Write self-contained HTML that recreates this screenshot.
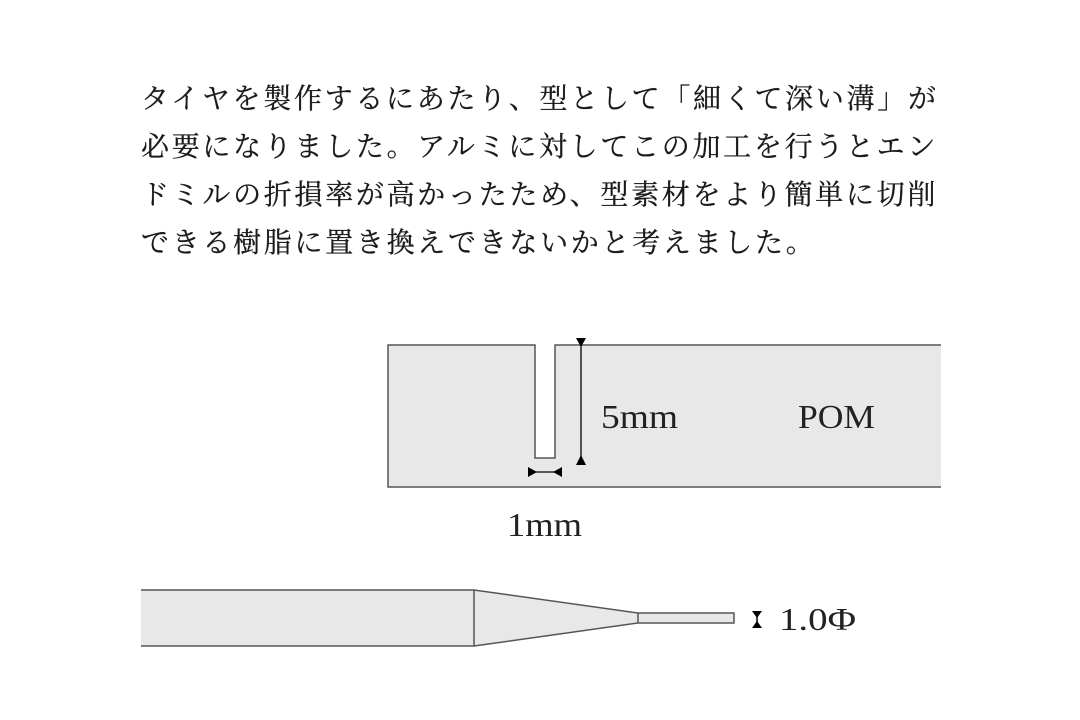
<!DOCTYPE html>
<html><head><meta charset="utf-8"><style>
body{margin:0;width:1080px;height:720px;background:#fff;overflow:hidden;position:relative}
.t{position:absolute;left:141px;top:76px;font-family:"Liberation Serif","Noto Serif CJK SC",serif;font-size:28px;letter-spacing:2.7px;line-height:48px;color:#1a1a1a;white-space:nowrap;-webkit-text-stroke:0.3px #1a1a1a}
svg{position:absolute;left:0;top:0}
</style></head><body>
<div class="t">タイヤを製作するにあたり、型として「細くて深い溝」が<br>必要になりました。アルミに対してこの加工を行うとエン<br>ドミルの折損率が高かったため、型素材をより簡単に切削<br>できる樹脂に置き換えできないかと考えました。</div>
<svg width="1080" height="720" font-family="Liberation Serif, serif" fill="#222">
<path d="M941 345 H555 V458 H535 V345 H388 V487 H941" fill="#e8e8e8" stroke="#555" stroke-width="1.5"/>
<line x1="581" y1="342" x2="581" y2="465" stroke="#000" stroke-width="1.3"/>
<polygon points="576,338 586,338 581,347" fill="#000"/>
<polygon points="576,465 586,465 581,455" fill="#000"/>
<line x1="528" y1="472" x2="562" y2="472" stroke="#000" stroke-width="1.3"/>
<polygon points="528,467 528,477 537,472" fill="#000"/>
<polygon points="562,467 562,477 553,472" fill="#000"/>
<text x="601" y="428" font-size="34" textLength="77" lengthAdjust="spacingAndGlyphs">5mm</text>
<text x="798" y="428" font-size="34" textLength="77" lengthAdjust="spacingAndGlyphs">POM</text>
<text x="507" y="536" font-size="34" textLength="75" lengthAdjust="spacingAndGlyphs">1mm</text>
<path d="M141 590 H474 L638 613 H734 V623 H638 L474 646 H141" fill="#e8e8e8" stroke="#555" stroke-width="1.5"/>
<line x1="474" y1="590" x2="474" y2="646" stroke="#555" stroke-width="1.5"/>
<line x1="638" y1="613" x2="638" y2="623" stroke="#555" stroke-width="1.5"/>
<line x1="757" y1="612" x2="757" y2="627" stroke="#000" stroke-width="1.5"/>
<polygon points="752,611 762,611 757,618" fill="#000"/>
<polygon points="752,628 762,628 757,621" fill="#000"/>
<text x="779" y="630" font-size="32" textLength="77" lengthAdjust="spacingAndGlyphs">1.0Φ</text>
</svg>
</body></html>
